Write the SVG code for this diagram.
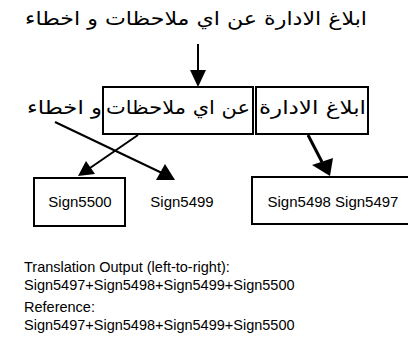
<svg xmlns="http://www.w3.org/2000/svg" width="408" height="354" viewBox="0 0 408 354">
  <style>
    .ar { font-family: "DejaVu Sans", "Noto Sans", sans-serif; font-size: 19px; fill: #000; }
    .lbl { font-family: "Liberation Sans", Arial, sans-serif; font-size: 15px; fill: #000; }
    .out { font-family: "Liberation Sans", Arial, sans-serif; font-size: 14.5px; fill: #000; }
    .box { fill: #fff; stroke: #000; stroke-width: 2; }
    .edge { stroke: #000; stroke-width: 2; fill: none; }
    .edge-bold { stroke: #000; stroke-width: 3; fill: none; }
  </style>
  <rect width="408" height="354" fill="#fff"/>

  <g id="source">
    <text class="ar" x="25" y="25" textLength="342" lengthAdjust="spacingAndGlyphs" direction="rtl" text-anchor="end">ابلاغ الادارة عن اي ملاحظات و اخطاء</text>
  </g>

  <g id="connectors">
    <line class="edge" x1="198" y1="44" x2="198" y2="72"/>
    <polygon points="190,70 206,70 198,87"/>
    <line class="edge" x1="138" y1="135" x2="90" y2="168"/>
    <polygon points="78,176 86,161 95,174"/>
    <line class="edge" x1="55" y1="122" x2="162" y2="173"/>
    <polygon points="175,180 156,180 165,164"/>
    <line class="edge-bold" x1="308" y1="135" x2="322" y2="162"/>
    <polygon points="330,176 312,165 333,158"/>
  </g>

  <g id="seg-mid">
    <rect class="box" x="103" y="87" width="150" height="47"/>
    <text class="ar" x="106" y="114" textLength="144" lengthAdjust="spacingAndGlyphs" direction="rtl" text-anchor="end">عن اي ملاحظات</text>
  </g>
  <g id="seg-right">
    <rect class="box" x="256" y="87" width="112" height="47"/>
    <text class="ar" x="259" y="114" textLength="107" lengthAdjust="spacingAndGlyphs" direction="rtl" text-anchor="end">ابلاغ الادارة</text>
  </g>
  <g id="seg-left">
    <text class="ar" x="27" y="114" textLength="75" lengthAdjust="spacingAndGlyphs" direction="rtl" text-anchor="end">و اخطاء</text>
  </g>

  <g id="sign5500">
    <rect class="box" x="34" y="178" width="91" height="48"/>
    <text class="lbl" x="80" y="207" text-anchor="middle">Sign5500</text>
  </g>
  <g id="sign5499">
    <text class="lbl" x="182" y="207" text-anchor="middle">Sign5499</text>
  </g>
  <g id="sign5498-5497">
    <rect class="box" x="252" y="177" width="160" height="47"/>
    <text class="lbl" x="333" y="207" text-anchor="middle">Sign5498 Sign5497</text>
  </g>

  <g id="output">
    <text class="out" x="24" y="272">Translation Output (left-to-right):</text>
    <text class="out" x="24" y="290">Sign5497+Sign5498+Sign5499+Sign5500</text>
    <text class="out" x="24" y="312">Reference:</text>
    <text class="out" x="24" y="330">Sign5497+Sign5498+Sign5499+Sign5500</text>
  </g>
</svg>
